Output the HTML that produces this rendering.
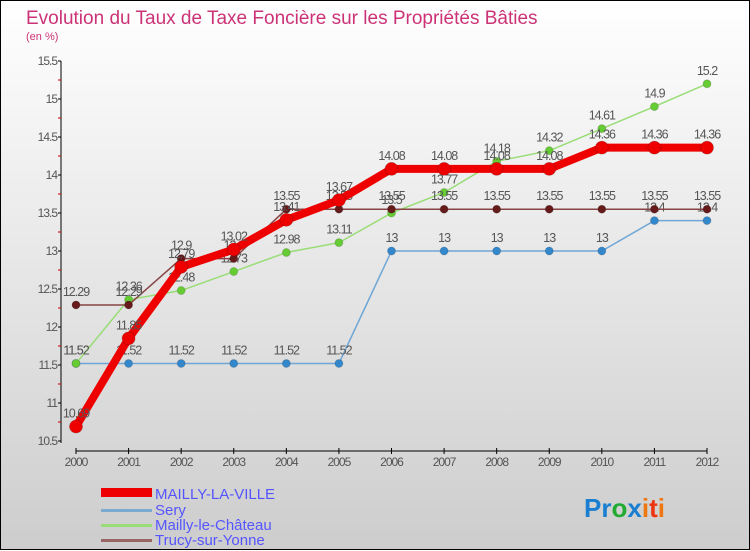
<!DOCTYPE html>
<html><head><meta charset="utf-8"><style>
html,body{margin:0;padding:0}
body{width:750px;height:550px;overflow:hidden;font-family:"Liberation Sans",sans-serif}
#wrap{position:relative;width:748px;height:548px;border:1px solid #000;background:linear-gradient(#ffffff,#cdcdcd)}
svg{position:absolute;left:0;top:0}
</style></head><body>
<div id="wrap">
<svg id="chart" width="750" height="550">
<text x="25" y="23" font-size="19" fill="#cc3377">Evolution du Taux de Taxe Foncière sur les Propriétés Bâties</text>
<text x="25" y="39" font-size="11" fill="#cc3377">(en %)</text>
<g id="axes"></g><g id="series"></g>
<g>
<rect x="100" y="487" width="51" height="9" fill="#ee0000"/>
<text x="154" y="498" font-size="15" fill="#5555ff">MAILLY-LA-VILLE</text>
<rect x="100" y="508" width="51" height="3" fill="#7aaad0"/>
<text x="154" y="514" font-size="15" fill="#5555ff">Sery</text>
<rect x="100" y="523" width="51" height="3" fill="#99dd77"/>
<text x="154" y="529" font-size="15" fill="#5555ff">Mailly-le-Château</text>
<rect x="100" y="538" width="51" height="3" fill="#996666"/>
<text x="154" y="544" font-size="15" fill="#5555ff">Trucy-sur-Yonne</text>
</g>
<g font-size="26" font-weight="bold">
<text x="583" y="516"><tspan fill="#1a7fd0">Pr</tspan><tspan fill="#22aa33">o</tspan><tspan fill="#1a7fd0">x</tspan><tspan fill="#ee7711">i</tspan><tspan fill="#ee3311">t</tspan><tspan fill="#ee7711">i</tspan></text>
</g>
</svg></div>
<script>
const years=[2000,2001,2002,2003,2004,2005,2006,2007,2008,2009,2010,2011,2012];
const yTicks=[10.5,11,11.5,12,12.5,13,13.5,14,14.5,15,15.5];
const maillyVille=[10.69,11.85,12.79,13.02,13.41,13.67,14.08,14.08,14.08,14.08,14.36,14.36,14.36];
const sery=[11.52,11.52,11.52,11.52,11.52,11.52,13,13,13,13,13,13.4,13.4];
const maillyChateau=[11.52,12.36,12.48,12.73,12.98,13.11,13.5,13.77,14.18,14.32,14.61,14.9,15.2];
const trucy=[12.29,12.29,12.9,12.9,13.55,13.55,13.55,13.55,13.55,13.55,13.55,13.55,13.55];
const NS="http://www.w3.org/2000/svg";
const x=i=>75+i*(706-75)/(years.length-1);
const y=v=>440-(v-10.5)*76;
function mk(tag,attrs,parent){const e=document.createElementNS(NS,tag);for(const k in attrs)e.setAttribute(k,attrs[k]);parent.appendChild(e);return e;}
const ax=document.getElementById('axes');
const yl=mk('line',{x1:60,y1:60,x2:60,y2:442,stroke:'#000'},ax);


yTicks.forEach((t,i)=>{
 mk('line',{x1:57,y1:y(t),x2:60,y2:y(t),stroke:'#000'},ax);
 if(i<yTicks.length-1)mk('line',{x1:57,y1:y(t+0.25),x2:60,y2:y(t+0.25),stroke:'#cc0000'},ax);
 const tx=mk('text',{x:56,y:y(t)+4,'font-size':12,fill:'#555','text-anchor':'end','letter-spacing':'-1'},ax);
 tx.textContent=t;
 
 
});
const xl=mk('line',{x1:75,y1:450,x2:706,y2:450,stroke:'#000'},ax);


years.forEach((yr,i)=>{
 mk('line',{x1:x(i),y1:447,x2:x(i),y2:453,stroke:'#000'},ax);
 const tx=mk('text',{x:x(i),y:465,'font-size':12,fill:'#555','text-anchor':'middle','letter-spacing':'-1'},ax);
 tx.textContent=yr;
 
 
});
const sg=document.getElementById('series');
function series(name,vals,color,dot,w,r){
 const g=mk('g',{},sg);
 
 
 mk('polyline',{points:vals.map((v,i)=>x(i)+','+y(v)).join(' '),fill:'none',stroke:color,'stroke-width':w,'stroke-linejoin':'round'},g);
 vals.forEach((v,i)=>{
  const c=mk('circle',{cx:x(i),cy:y(v),r:r,fill:dot,stroke:'rgba(0,0,0,0.15)'},g);
  
  
  const t=mk('text',{x:x(i),y:y(v)-9,'font-size':12.5,fill:'#555','text-anchor':'middle','letter-spacing':'-1'},g);
  t.textContent=v;
  
  
 });
}
series('sery',sery,'#6fa6d6','#3388cc',1.5,4);
series('mailly-le-chateau',maillyChateau,'#99dd77','#66cc33',1.5,4);
series('trucy-sur-yonne',trucy,'#884444','#661a1a',1.5,4);
series('mailly-la-ville',maillyVille,'#ee0000','#ee0000',8,6.5);
</script>
</body></html>
